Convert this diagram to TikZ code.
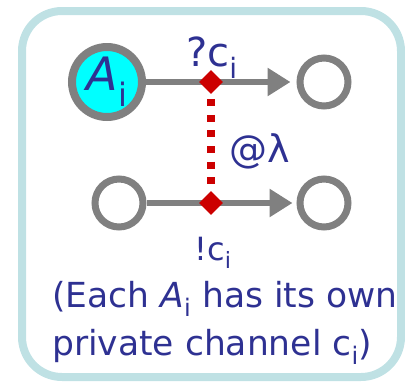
\documentclass[tikz,border=0pt]{standalone}
\usepackage{fontspec}
\setmainfont{DejaVu Sans}
\usetikzlibrary{arrows.meta,shapes.geometric}
\definecolor{framecol}{HTML}{BFE1E4}
\definecolor{inkblue}{HTML}{2E3192}
\definecolor{ringgray}{HTML}{808080}
\definecolor{markred}{HTML}{CC0000}
\definecolor{agentfill}{HTML}{00FFFF}
\tikzset{
  statenode/.style={circle,draw=ringgray,line width=7pt,fill=white,minimum size=48pt,inner sep=0pt},
  flow/.style={ringgray,line width=6pt,-{Triangle[length=23pt,width=27pt]}},
  marker/.style={diamond,fill=markred,inner sep=0pt,minimum size=24pt},
  lbl/.style={inkblue,inner sep=0pt,anchor=base}
}
\begin{document}
\begin{tikzpicture}[x=1pt,y=-1pt,line cap=butt]
  \useasboundingbox (0,0) rectangle (405,384);
  \draw[framecol,line width=8pt,rounded corners=40pt] (22,11) rectangle (401,377);

  \node[statenode,fill=agentfill,line width=8pt,minimum size=70pt,text=inkblue,
        font=\fontsize{46}{46}\selectfont] (ai) at (107,82) {\textit{A}\textsubscript{i}};
  \node[statenode] (tr) at (324,82) {};
  \node[statenode] (bl) at (119,203) {};
  \node[statenode] (br) at (324,203) {};

  \draw[flow,shorten >=6pt] (ai) -- (tr);
  \draw[flow,shorten >=4pt] (bl) -- (br);

  \node[marker] (d1) at (211,82) {};
  \node[marker] (d2) at (211,203) {};
  \draw[markred,line width=7.5pt,dash pattern=on 7pt off 8.6pt,
        shorten <=5pt,shorten >=5pt] (d1) -- (d2);

  \node[lbl,font=\fontsize{40}{40}\selectfont] (recv) at (212,66) {?c\textsubscript{i}};
  \node[lbl,font=\fontsize{38}{38}\selectfont] (par) at (260,162) {@λ};
  \node[lbl,font=\fontsize{32}{32}\selectfont] (send) at (213,260) {!c\textsubscript{i}};

  \node[lbl,anchor=base west,font=\fontsize{34.5}{34.5}\selectfont] (note1) at (52,307)
    {(Each \textit{A}\textsubscript{i} has its own};
  \node[lbl,anchor=base west,font=\fontsize{34.5}{34.5}\selectfont] (note2) at (52,355)
    {private channel c\textsubscript{i})};
\end{tikzpicture}
\end{document}
